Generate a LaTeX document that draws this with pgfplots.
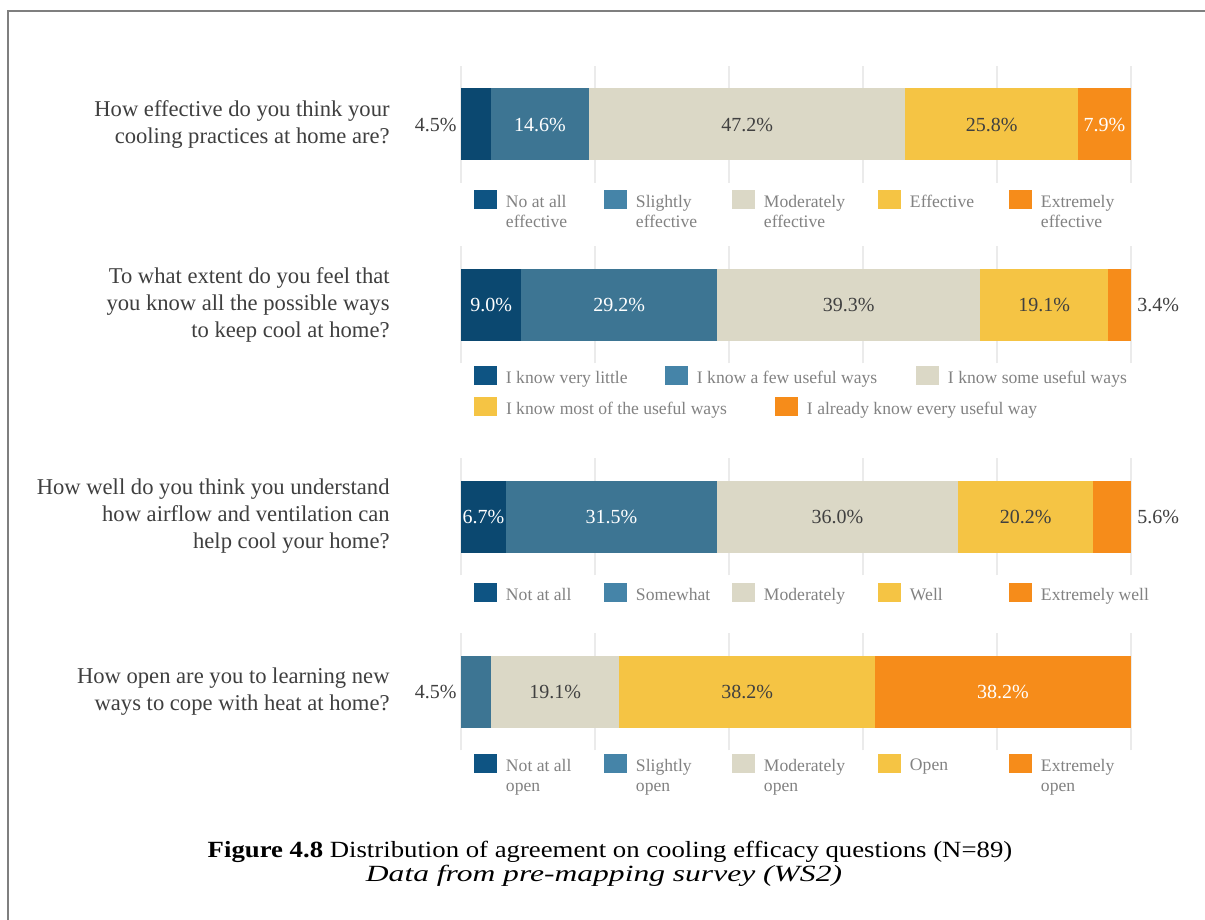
\documentclass[border=0pt]{standalone}
\usepackage{pgfplots}
\pgfplotsset{compat=1.18}
\usepackage{fontspec}
\setmainfont{Liberation Serif}
\definecolor{cA}{HTML}{0B4870}
\definecolor{cB}{HTML}{3D7593}
\definecolor{cC}{HTML}{DBD8C6}
\definecolor{cD}{HTML}{F5C444}
\definecolor{cE}{HTML}{F68C1A}
\definecolor{lA}{HTML}{0E5483}
\definecolor{lB}{HTML}{4584A8}
\definecolor{qtext}{HTML}{3F3F3F}
\definecolor{dtext}{HTML}{404040}
\definecolor{ltext}{HTML}{828282}
\definecolor{gridc}{HTML}{EBEBEB}
\definecolor{framec}{HTML}{7F7F7F}

\pgfplotsset{
  legend image code/.code={\fill[#1, draw=none] (0pt,-3.25pt) rectangle (11.5pt,6.25pt);},
  geom/.style={scale only axis, width=335pt, height=58.5pt, anchor=north west,
    xmin=0, xmax=100, ymin=-0.5, ymax=0.5},
  barax/.style={geom,
    xtick={0,20,...,100}, xticklabels={},
    xmajorgrids, grid style={gridc, line width=0.9pt},
    axis line style={draw=none},
    major tick length=0pt,
    ytick={0},
    yticklabel style={align=right, font=\fontsize{11.3}{13.5}\selectfont, text=qtext, inner sep=0pt, xshift=-35.5pt},
    xbar stacked, bar width=36pt},
  labax/.style={geom, hide axis, clip=false,
    legend cell align=left,
    legend style={draw=none, fill=none, inner sep=0pt, outer sep=0pt, anchor=north west,
      font=\fontsize{8.8}{10.4}\selectfont,
      nodes={inner sep=0pt, text=ltext},
      /tikz/column sep=0pt,
      /tikz/every odd column/.append style={column sep=4.5pt}}},
  lbl/.style={draw=none, mark=none, forget plot,
    nodes near coords={\pgfplotspointmeta\%}, point meta=explicit symbolic,
    every node near coord/.append style={anchor=center, font=\fontsize{10}{12}\selectfont, inner sep=0pt, text=#1}},
  lblw/.style={lbl=white},
  lbld/.style={lbl=dtext},
  lblL/.style={lbl=dtext, every node near coord/.append style={anchor=east, xshift=-2pt}},
  lblR/.style={lbl=dtext, every node near coord/.append style={anchor=west, xshift=3pt}},
}

\begin{document}
\begin{tikzpicture}
\path[use as bounding box, fill=white] (0pt,0pt) rectangle (602.5pt,-460pt);
\draw[framec, line width=1pt] (4pt,-460pt) -- (4pt,-5.5pt) -- (602.5pt,-5.5pt);

% ---------- Question 1 ----------
\begin{axis}[barax, at={(230.5pt,-33pt)},
  yticklabels={{How effective do you think your\\cooling practices at home are?}}]
\addplot[fill=cA, draw=none] coordinates {(4.5,0)};
\addplot[fill=cB, draw=none] coordinates {(14.6,0)};
\addplot[fill=cC, draw=none] coordinates {(47.2,0)};
\addplot[fill=cD, draw=none] coordinates {(25.8,0)};
\addplot[fill=cE, draw=none] coordinates {(7.9,0)};
\end{axis}
\begin{axis}[labax, at={(230.5pt,-33pt)}, legend columns=5,
  legend style={at={(0.0194,-0.06)}}]
\addplot[lblw] table[row sep=\\, x=x, y expr=0, meta=l] {x l\\ 11.8 14.6\\ 96.05 7.9\\};
\addplot[lbld] table[row sep=\\, x=x, y expr=0, meta=l] {x l\\ 42.7 47.2\\ 79.2 25.8\\};
\addplot[lblL] table[row sep=\\, x=x, y expr=0, meta=l] {x l\\ 0 4.5\\};
\addlegendimage{fill=lA}\addlegendentry{\parbox[t]{49pt}{No at all\\effective}}
\addlegendimage{fill=lB}\addlegendentry{\parbox[t]{48pt}{Slightly\\effective}}
\addlegendimage{fill=cC}\addlegendentry{\parbox[t]{57pt}{Moderately\\effective}}
\addlegendimage{fill=cD}\addlegendentry{\parbox[t]{49.5pt}{Effective}}
\addlegendimage{fill=cE}\addlegendentry{\parbox[t]{50pt}{Extremely\\effective}}
\end{axis}

% ---------- Question 2 ----------
\begin{axis}[barax, at={(230.5pt,-123pt)},
  yticklabels={{To what extent do you feel that\\you know all the possible ways\\to keep cool at home?}}]
\addplot[fill=cA, draw=none] coordinates {(9.0,0)};
\addplot[fill=cB, draw=none] coordinates {(29.2,0)};
\addplot[fill=cC, draw=none] coordinates {(39.3,0)};
\addplot[fill=cD, draw=none] coordinates {(19.1,0)};
\addplot[fill=cE, draw=none] coordinates {(3.4,0)};
\end{axis}
\begin{axis}[labax, at={(230.5pt,-123pt)}, legend columns=3,
  legend style={at={(0.0194,-0.0256)}}]
\addplot[lblw] table[row sep=\\, x=x, y expr=0, meta=l] {x l\\ 4.5 9.0\\ 23.6 29.2\\};
\addplot[lbld] table[row sep=\\, x=x, y expr=0, meta=l] {x l\\ 57.85 39.3\\ 87.05 19.1\\};
\addplot[lblR] table[row sep=\\, x=x, y expr=0, meta=l] {x l\\ 100 3.4\\};
\addlegendimage{fill=lA}\addlegendentry{\parbox[t]{79.5pt}{I know very little}}
\addlegendimage{fill=lB}\addlegendentry{\parbox[t]{109.5pt}{I know a few useful ways}}
\addlegendimage{fill=cC}\addlegendentry{\parbox[t]{100pt}{I know some useful ways}}
\end{axis}
\begin{axis}[labax, at={(230.5pt,-123pt)}, legend columns=2,
  legend style={at={(0.0194,-0.2906)}}]
\addlegendimage{fill=cD}\addlegendentry{\parbox[t]{134.5pt}{I know most of the useful ways}}
\addlegendimage{fill=cE}\addlegendentry{\parbox[t]{120pt}{I already know every useful way}}
\end{axis}

% ---------- Question 3 ----------
\begin{axis}[barax, at={(230.5pt,-229pt)},
  yticklabels={{How well do you think you understand\\how airflow and ventilation can\\help cool your home?}}]
\addplot[fill=cA, draw=none] coordinates {(6.7,0)};
\addplot[fill=cB, draw=none] coordinates {(31.5,0)};
\addplot[fill=cC, draw=none] coordinates {(36.0,0)};
\addplot[fill=cD, draw=none] coordinates {(20.2,0)};
\addplot[fill=cE, draw=none] coordinates {(5.6,0)};
\end{axis}
\begin{axis}[labax, at={(230.5pt,-229pt)}, legend columns=5,
  legend style={at={(0.0194,-0.068)}}]
\addplot[lblw] table[row sep=\\, x=x, y expr=0, meta=l] {x l\\ 3.35 6.7\\ 22.45 31.5\\};
\addplot[lbld] table[row sep=\\, x=x, y expr=0, meta=l] {x l\\ 56.2 36.0\\ 84.3 20.2\\};
\addplot[lblR] table[row sep=\\, x=x, y expr=0, meta=l] {x l\\ 100 5.6\\};
\addlegendimage{fill=lA}\addlegendentry{\parbox[t]{49pt}{Not at all}}
\addlegendimage{fill=lB}\addlegendentry{\parbox[t]{48pt}{Somewhat}}
\addlegendimage{fill=cC}\addlegendentry{\parbox[t]{57pt}{Moderately}}
\addlegendimage{fill=cD}\addlegendentry{\parbox[t]{49.5pt}{Well}}
\addlegendimage{fill=cE}\addlegendentry{\parbox[t]{60pt}{Extremely well}}
\end{axis}

% ---------- Question 4 ----------
\begin{axis}[barax, at={(230.5pt,-316.5pt)},
  yticklabels={{How open are you to learning new\\ways to cope with heat at home?}}]
\addplot[fill=cA, draw=none] coordinates {(0,0)};
\addplot[fill=cB, draw=none] coordinates {(4.5,0)};
\addplot[fill=cC, draw=none] coordinates {(19.1,0)};
\addplot[fill=cD, draw=none] coordinates {(38.2,0)};
\addplot[fill=cE, draw=none] coordinates {(38.2,0)};
\end{axis}
\begin{axis}[labax, at={(230.5pt,-316.5pt)}, legend columns=5,
  legend style={at={(0.0194,-0.034)}}]
\addplot[lblw] table[row sep=\\, x=x, y expr=0, meta=l] {x l\\ 80.9 38.2\\};
\addplot[lbld] table[row sep=\\, x=x, y expr=0, meta=l] {x l\\ 14.05 19.1\\ 42.7 38.2\\};
\addplot[lblL] table[row sep=\\, x=x, y expr=0, meta=l] {x l\\ 0 4.5\\};
\addlegendimage{fill=lA}\addlegendentry{\parbox[t]{49pt}{Not at all\\open}}
\addlegendimage{fill=lB}\addlegendentry{\parbox[t]{48pt}{Slightly\\open}}
\addlegendimage{fill=cC}\addlegendentry{\parbox[t]{57pt}{Moderately\\open}}
\addlegendimage{fill=cD}\addlegendentry{\parbox[t]{49.5pt}{Open}}
\addlegendimage{fill=cE}\addlegendentry{\parbox[t]{50pt}{Extremely\\open}}
\end{axis}

% ---------- Caption ----------
\node[anchor=base, inner sep=0pt] at (305pt,-428.5pt)
  {\scalebox{1.153}[1]{\fontsize{11.6}{12}\selectfont\textbf{Figure 4.8} Distribution of agreement on cooling efficacy questions (N=89)}};
\node[anchor=base, inner sep=0pt] at (302pt,-440.5pt)
  {\scalebox{1.36}[1]{\fontsize{11.6}{12}\selectfont\itshape Data from pre-mapping survey (WS2)}};
\end{tikzpicture}
\end{document}
